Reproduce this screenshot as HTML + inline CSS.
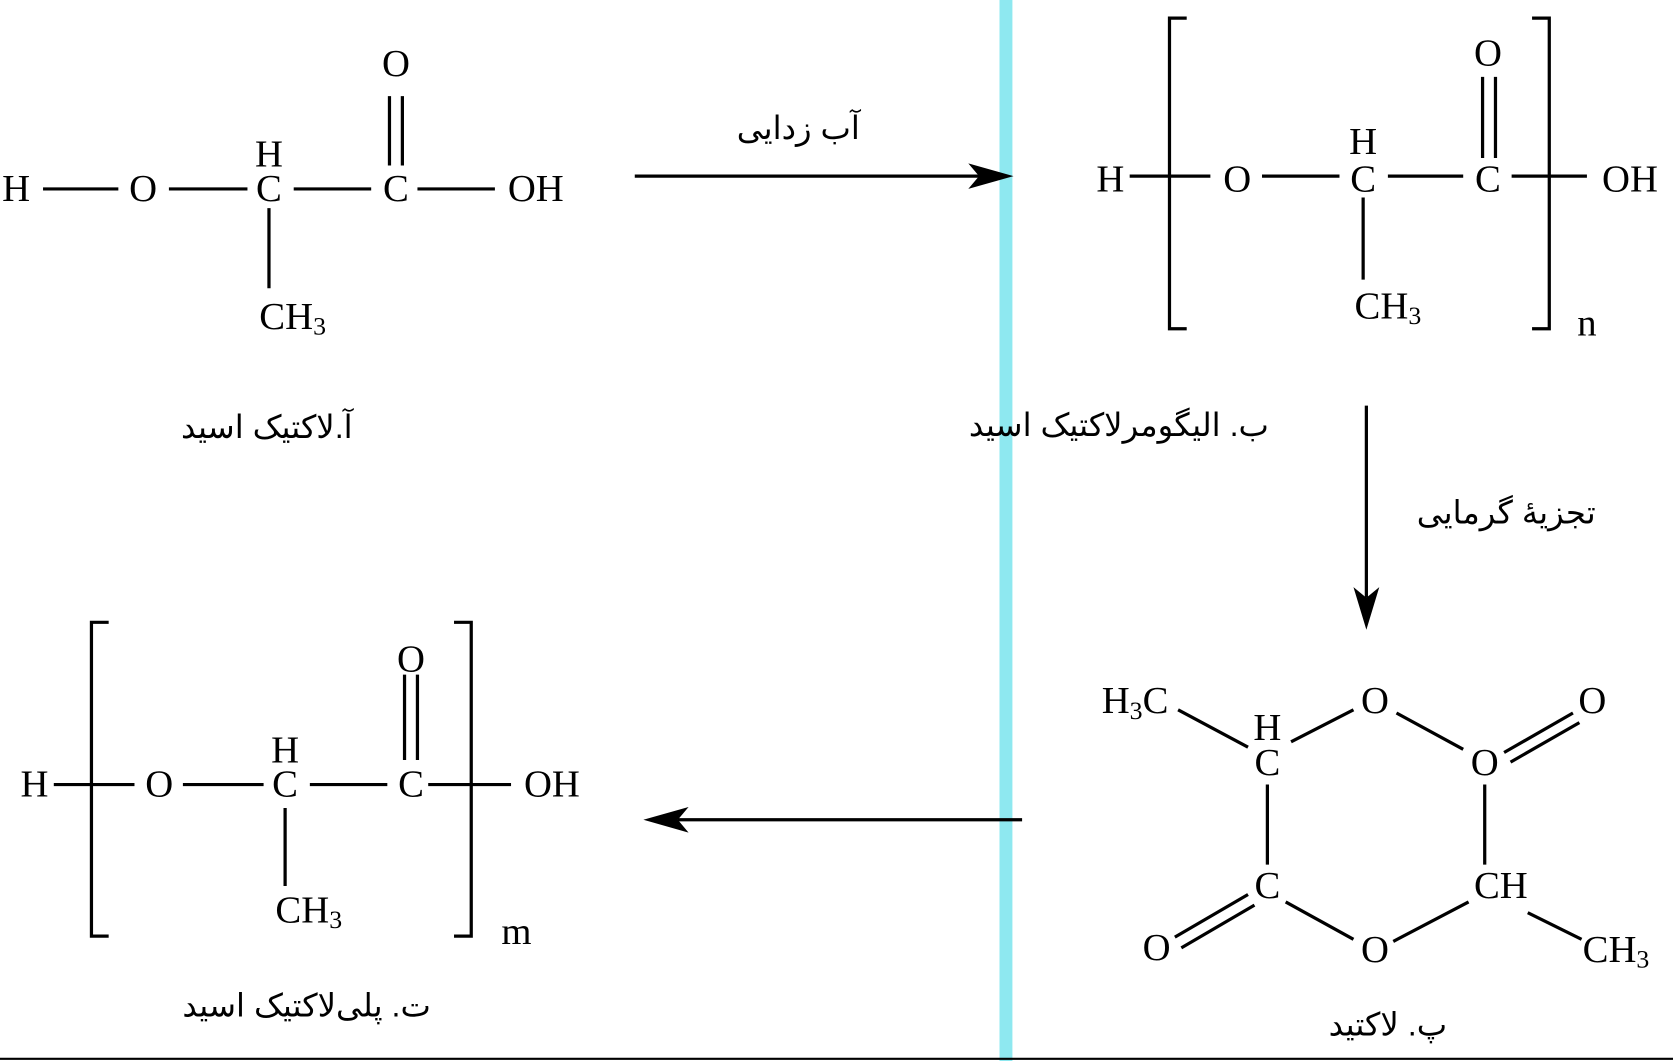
<!DOCTYPE html>
<html><head><meta charset="utf-8"><style>
html,body{margin:0;padding:0;background:#fff;}
svg{display:block;}
text{font-family:"Liberation Serif",serif;font-size:36px;fill:#000;}
.fa{font-family:"Liberation Sans","DejaVu Sans",sans-serif;font-size:30px;}
</style></head><body>
<svg width="1673" height="1061" viewBox="0 0 1555 994" preserveAspectRatio="none" xmlns="http://www.w3.org/2000/svg">
<rect x="929" y="0" width="12" height="994" fill="#8ee8f0"/>
<line x1="0" y1="992" x2="1555" y2="992" stroke="#000" stroke-width="2"/>
<g stroke="#000" stroke-width="3" fill="none">
<!-- structure 1 -->
<line x1="40" y1="177" x2="110" y2="177"/><line x1="157" y1="177" x2="230" y2="177"/>
<line x1="273" y1="177" x2="345" y2="177"/><line x1="388" y1="177" x2="460" y2="177"/>
<line x1="362" y1="90" x2="362" y2="155"/><line x1="374" y1="90" x2="374" y2="155"/>
<line x1="250" y1="195" x2="250" y2="270"/>
<!-- arrow 1 -->
<line x1="590" y1="165" x2="910" y2="165"/>
<!-- structure 2 -->
<polyline points="1103,17 1087,17 1087,308 1103,308"/>
<polyline points="1424,17 1440,17 1440,308 1424,308"/>
<line x1="1050" y1="165" x2="1125" y2="165"/><line x1="1173" y1="165" x2="1245" y2="165"/>
<line x1="1290" y1="165" x2="1360" y2="165"/><line x1="1405" y1="165" x2="1475" y2="165"/>
<line x1="1378" y1="72" x2="1378" y2="148"/><line x1="1390" y1="72" x2="1390" y2="148"/>
<line x1="1267" y1="185" x2="1267" y2="262"/>
<!-- down arrow -->
<line x1="1270" y1="380" x2="1270" y2="560"/>
<!-- lactide -->
<line x1="1095" y1="665" x2="1160" y2="700"/>
<line x1="1200" y1="695" x2="1258" y2="665"/>
<line x1="1298" y1="668" x2="1360" y2="702"/>
<line x1="1398" y1="705" x2="1462" y2="668"/><line x1="1404" y1="714" x2="1468" y2="677"/>
<line x1="1380" y1="735" x2="1380" y2="810"/>
<line x1="1365" y1="845" x2="1295" y2="882"/>
<line x1="1258" y1="880" x2="1195" y2="845"/>
<line x1="1178" y1="735" x2="1178" y2="810"/>
<line x1="1160" y1="838" x2="1092" y2="878"/><line x1="1166" y1="848" x2="1098" y2="888"/>
<line x1="1420" y1="855" x2="1470" y2="880"/>
<!-- left arrow -->
<line x1="950" y1="768" x2="630" y2="768"/>
<!-- structure 4 -->
<polyline points="101,583 85,583 85,877 101,877"/>
<polyline points="422,583 438,583 438,877 422,877"/>
<line x1="50" y1="735" x2="125" y2="735"/><line x1="170" y1="735" x2="245" y2="735"/>
<line x1="288" y1="735" x2="360" y2="735"/><line x1="398" y1="735" x2="475" y2="735"/>
<line x1="376" y1="632" x2="376" y2="712"/><line x1="388" y1="632" x2="388" y2="712"/>
<line x1="265" y1="757" x2="265" y2="830"/>
</g>
<g fill="#000">
<polygon points="942,165 900,153 910,165 900,177"/>
<polygon points="1270,590 1258,550 1270,560 1282,550"/>
<polygon points="598,768 640,756 630,768 640,780"/>
</g>
<g text-anchor="middle" dominant-baseline="central">
<text x="15" y="177">H</text><text x="133" y="177">O</text>
<text x="250" y="145">H</text><text x="250" y="177">C</text>
<text x="368" y="177">C</text><text x="368" y="60">O</text>
<text x="498" y="177">OH</text>
<text x="272" y="297">CH<tspan font-size="24" dy="8">3</tspan></text>

<text x="1032" y="168">H</text><text x="1150" y="168">O</text>
<text x="1267" y="133">H</text><text x="1267" y="168">C</text>
<text x="1383" y="168">C</text><text x="1383" y="50">O</text>
<text x="1515" y="168">OH</text>
<text x="1290" y="287">CH<tspan font-size="24" dy="8">3</tspan></text>
<text x="1475" y="303">n</text>

<text x="1055" y="657">H<tspan font-size="24" dy="8">3</tspan><tspan dy="-8">C</tspan></text>
<text x="1178" y="682">H</text><text x="1178" y="715">C</text>
<text x="1278" y="657">O</text><text x="1380" y="715">O</text>
<text x="1480" y="657">O</text>
<text x="1395" y="830">CH</text>
<text x="1278" y="890">O</text><text x="1178" y="830">C</text>
<text x="1075" y="888">O</text>
<text x="1502" y="890">CH<tspan font-size="24" dy="8">3</tspan></text>

<text x="32" y="735">H</text><text x="148" y="735">O</text>
<text x="265" y="703">H</text><text x="265" y="735">C</text>
<text x="382" y="735">C</text><text x="382" y="618">O</text>
<text x="513" y="735">OH</text>
<text x="287" y="853">CH<tspan font-size="24" dy="8">3</tspan></text>
<text x="480" y="873">m</text>

<text class="fa" x="742" y="120" direction="rtl">آب زدایی</text>
<text class="fa" x="248" y="400" direction="rtl">آ.لاکتیک اسید</text>
<text class="fa" x="1040" y="398" direction="rtl">ب. الیگومرلاکتیک اسید</text>
<text class="fa" x="1400" y="480" direction="rtl">تجزیهٔ گرمایی</text>
<text class="fa" x="1290" y="960" direction="rtl">پ. لاکتید</text>
<text class="fa" x="285" y="942" direction="rtl">ت. پلی‌لاکتیک اسید</text>
</g>
</svg>
</body></html>
